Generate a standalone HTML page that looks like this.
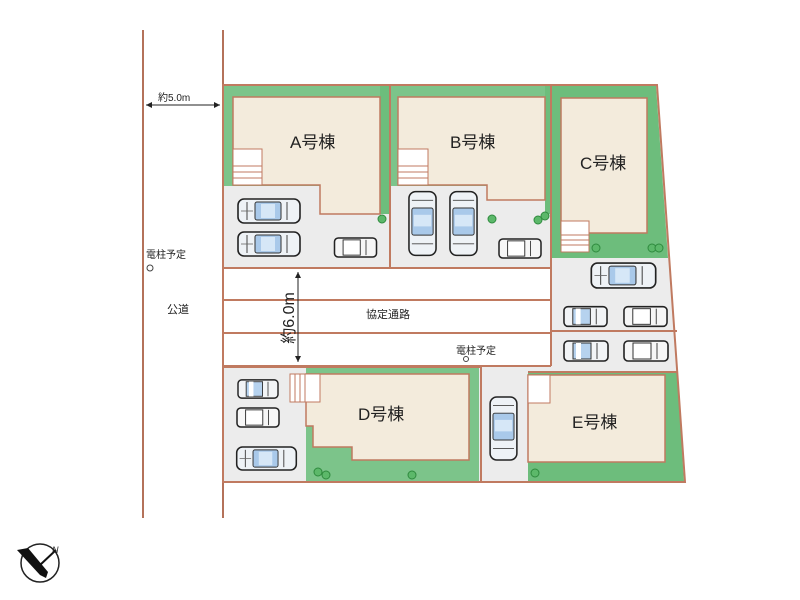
<!DOCTYPE html>
<html><head><meta charset="utf-8"><style>
html,body{margin:0;padding:0;background:#fff;width:800px;height:600px;overflow:hidden}
svg{display:block}
text{font-family:"Liberation Sans","Noto Sans CJK JP",sans-serif;fill:#222}
</style></head><body>
<svg width="800" height="600" viewBox="0 0 800 600" xmlns="http://www.w3.org/2000/svg">
<defs>
<symbol id="carH" viewBox="0 0 64 26">
<rect x="1" y="1" width="62" height="24" rx="6" fill="#eef2f6" stroke="#222" stroke-width="1.6"/>
<rect x="18" y="4" width="26" height="18" rx="2" fill="#a9c9ea" stroke="#333" stroke-width="1"/>
<rect x="24" y="6" width="14" height="14" fill="#d6e7f7"/>
<line x1="10" y1="4" x2="10" y2="22" stroke="#444"/>
<line x1="50" y1="4" x2="50" y2="22" stroke="#444"/>
<line x1="4" y1="13" x2="16" y2="13" stroke="#666" stroke-width="0.8"/>
</symbol>
<symbol id="carS" viewBox="0 0 46 22">
<rect x="1" y="1" width="44" height="20" rx="4" fill="#f2f4f6" stroke="#222" stroke-width="1.6"/>
<rect x="10" y="3" width="18" height="16" fill="#b6d2ee" stroke="#333" stroke-width="1"/>
<rect x="13" y="3" width="5" height="16" fill="#fff"/>
<line x1="34" y1="3" x2="34" y2="19" stroke="#444"/>
</symbol>
<symbol id="carSg" viewBox="0 0 46 22">
<rect x="1" y="1" width="44" height="20" rx="4" fill="#f6f6f6" stroke="#222" stroke-width="1.6"/>
<rect x="10" y="3" width="18" height="16" fill="#fff" stroke="#333" stroke-width="1"/>
<line x1="34" y1="3" x2="34" y2="19" stroke="#444"/>
</symbol>
<symbol id="carV" viewBox="0 0 30 68">
<rect x="1" y="1" width="28" height="66" rx="7" fill="#eef2f6" stroke="#222" stroke-width="1.6"/>
<rect x="4" y="18" width="22" height="28" rx="2" fill="#a9c9ea" stroke="#333" stroke-width="1"/>
<rect x="6" y="25" width="18" height="12" fill="#d6e7f7"/>
<line x1="4" y1="10" x2="26" y2="10" stroke="#444"/>
<line x1="4" y1="55" x2="26" y2="55" stroke="#444"/>
</symbol>
</defs>

<line x1="143" y1="30" x2="143" y2="518" stroke="#b4725a" stroke-width="2"/>
<line x1="223" y1="30" x2="223" y2="518" stroke="#b4725a" stroke-width="2"/>
<line x1="146" y1="105" x2="220" y2="105" stroke="#222" stroke-width="1"/>
<polygon points="146,105 152,102 152,108" fill="#222"/>
<polygon points="220,105 214,102 214,108" fill="#222"/>
<text x="158" y="101" font-size="10">約5.0m</text>
<text x="146" y="258" font-size="10">電柱予定</text>
<circle cx="150" cy="268" r="3" fill="#fff" stroke="#444"/>
<text x="167" y="313" font-size="11">公道</text>

<polygon points="223,85 657,85 685,482 223,482" fill="#ececec"/>

<rect x="224" y="86" width="165" height="100" fill="#7cc48a"/>
<rect x="380" y="86" width="9" height="128" fill="#6dbd7c"/>
<polygon points="233,97 380,97 380,214 320,214 320,185 233,185" fill="#f3ebdc" stroke="#c07a60" stroke-width="1.5"/>
<rect x="233" y="149" width="29" height="36" fill="#fff" stroke="#c07a60" stroke-width="1"/>
<g stroke="#c07a60" stroke-width="1"><line x1="233" y1="166" x2="262" y2="166"/><line x1="233" y1="172" x2="262" y2="172"/><line x1="233" y1="178" x2="262" y2="178"/></g>
<text x="290" y="148" font-size="17">A号棟</text>

<rect x="391" y="86" width="159" height="100" fill="#7cc48a"/>
<rect x="545" y="86" width="6" height="128" fill="#6dbd7c"/>
<polygon points="398,97 545,97 545,200 487,200 487,185 398,185" fill="#f3ebdc" stroke="#c07a60" stroke-width="1.5"/>
<rect x="398" y="149" width="30" height="36" fill="#fff" stroke="#c07a60" stroke-width="1"/>
<g stroke="#c07a60" stroke-width="1"><line x1="398" y1="166" x2="428" y2="166"/><line x1="398" y1="172" x2="428" y2="172"/><line x1="398" y1="178" x2="428" y2="178"/></g>
<text x="450" y="148" font-size="17">B号棟</text>

<polygon points="552,86 656,86 668,258 552,258" fill="#6dbd7c"/>
<rect x="561" y="98" width="86" height="135" fill="#f3ebdc" stroke="#c07a60" stroke-width="1.5"/>
<rect x="561" y="221" width="28" height="31" fill="#fff" stroke="#c07a60" stroke-width="1"/>
<g stroke="#c07a60" stroke-width="1"><line x1="561" y1="235" x2="589" y2="235"/><line x1="561" y1="240" x2="589" y2="240"/><line x1="561" y1="245" x2="589" y2="245"/></g>
<text x="580" y="169" font-size="17">C号棟</text>

<rect x="224" y="268" width="327" height="98" fill="#fff"/>

<polygon points="290,368 479,368 479,481 290,481" fill="#7cc48a"/>
<rect x="224" y="367" width="82" height="114" fill="#ececec"/>
<polygon points="306,374 469,374 469,460 352,460 352,447 313,447 313,426 306,426" fill="#f3ebdc" stroke="#c07a60" stroke-width="1.5"/>
<rect x="290" y="374" width="30" height="28" fill="#fff" stroke="#c07a60" stroke-width="1"/>
<g stroke="#c07a60" stroke-width="1"><line x1="295" y1="374" x2="295" y2="402"/><line x1="300" y1="374" x2="300" y2="402"/><line x1="305" y1="374" x2="305" y2="402"/></g>
<text x="358" y="420" font-size="17">D号棟</text>

<polygon points="528,373 677,373 684,481 528,481" fill="#6dbd7c"/>
<rect x="528" y="375" width="137" height="87" fill="#f3ebdc" stroke="#c07a60" stroke-width="1.5"/>
<rect x="528" y="375" width="22" height="28" fill="#fff" stroke="#c07a60" stroke-width="1"/>
<text x="572" y="428" font-size="17">E号棟</text>

<g fill="none" stroke="#c07a60" stroke-width="2">
<polygon points="223,85 657,85 685,482 223,482"/>
<line x1="390" y1="85" x2="390" y2="267"/>
<line x1="551" y1="85" x2="551" y2="366"/>
<line x1="223" y1="268" x2="551" y2="268"/>
<line x1="223" y1="300" x2="551" y2="300"/>
<line x1="223" y1="333" x2="551" y2="333"/>
<line x1="223" y1="366" x2="551" y2="366"/>
<line x1="551" y1="331" x2="677" y2="331"/>
<line x1="223" y1="367" x2="481" y2="367"/>
<line x1="481" y1="367" x2="481" y2="482"/>
<line x1="528" y1="372" x2="678" y2="372"/>
</g>

<line x1="298" y1="272" x2="298" y2="362" stroke="#222" stroke-width="1"/>
<polygon points="298,272 295,278 301,278" fill="#222"/>
<polygon points="298,362 295,356 301,356" fill="#222"/>
<text transform="translate(294,318) rotate(-90)" x="0" y="0" font-size="16" text-anchor="middle">約6.0m</text>
<text x="366" y="318" font-size="11">協定通路</text>
<text x="456" y="354" font-size="10">電柱予定</text>
<circle cx="466" cy="359" r="2.5" fill="#fff" stroke="#444"/>

<g fill="#5cb86a" stroke="#2f8a3e" stroke-width="1">
<circle cx="382" cy="219" r="4"/><circle cx="492" cy="219" r="4"/><circle cx="538" cy="220" r="4"/><circle cx="545" cy="216" r="4"/>
<circle cx="596" cy="248" r="4"/><circle cx="652" cy="248" r="4"/><circle cx="659" cy="248" r="4"/>
<circle cx="318" cy="472" r="4"/><circle cx="326" cy="475" r="4"/><circle cx="412" cy="475" r="4"/><circle cx="535" cy="473" r="4"/>
</g>

<use href="#carH" x="236" y="198" width="66" height="26"/>
<use href="#carH" x="236" y="231" width="66" height="26"/>
<use href="#carSg" x="331" y="237" width="49" height="21"/>
<use href="#carV" x="408" y="190" width="29" height="67"/>
<use href="#carV" x="449" y="190" width="29" height="67"/>
<use href="#carSg" x="497" y="238" width="46" height="21"/>
<use href="#carH" x="590" y="262" width="67" height="27"/>
<use href="#carS" x="563" y="305" width="45" height="23"/>
<use href="#carSg" x="623" y="305" width="45" height="23"/>
<use href="#carS" x="563" y="340" width="46" height="22"/>
<use href="#carSg" x="623" y="340" width="46" height="22"/>
<use href="#carS" x="235" y="379" width="46" height="20"/>
<use href="#carSg" x="235" y="407" width="46" height="21"/>
<use href="#carH" x="233" y="446" width="67" height="25"/>
<use href="#carV" x="489" y="396" width="29" height="65"/>

<circle cx="40" cy="563" r="19" fill="#fff" stroke="#222" stroke-width="1.5"/>
<polygon points="17,550 28,548 48,572 46,578 40,575" fill="#111"/>
<line x1="40" y1="565" x2="56" y2="550" stroke="#111" stroke-width="2"/>
<text x="52" y="553" font-size="9" font-style="italic">N</text>
</svg>
</body></html>
